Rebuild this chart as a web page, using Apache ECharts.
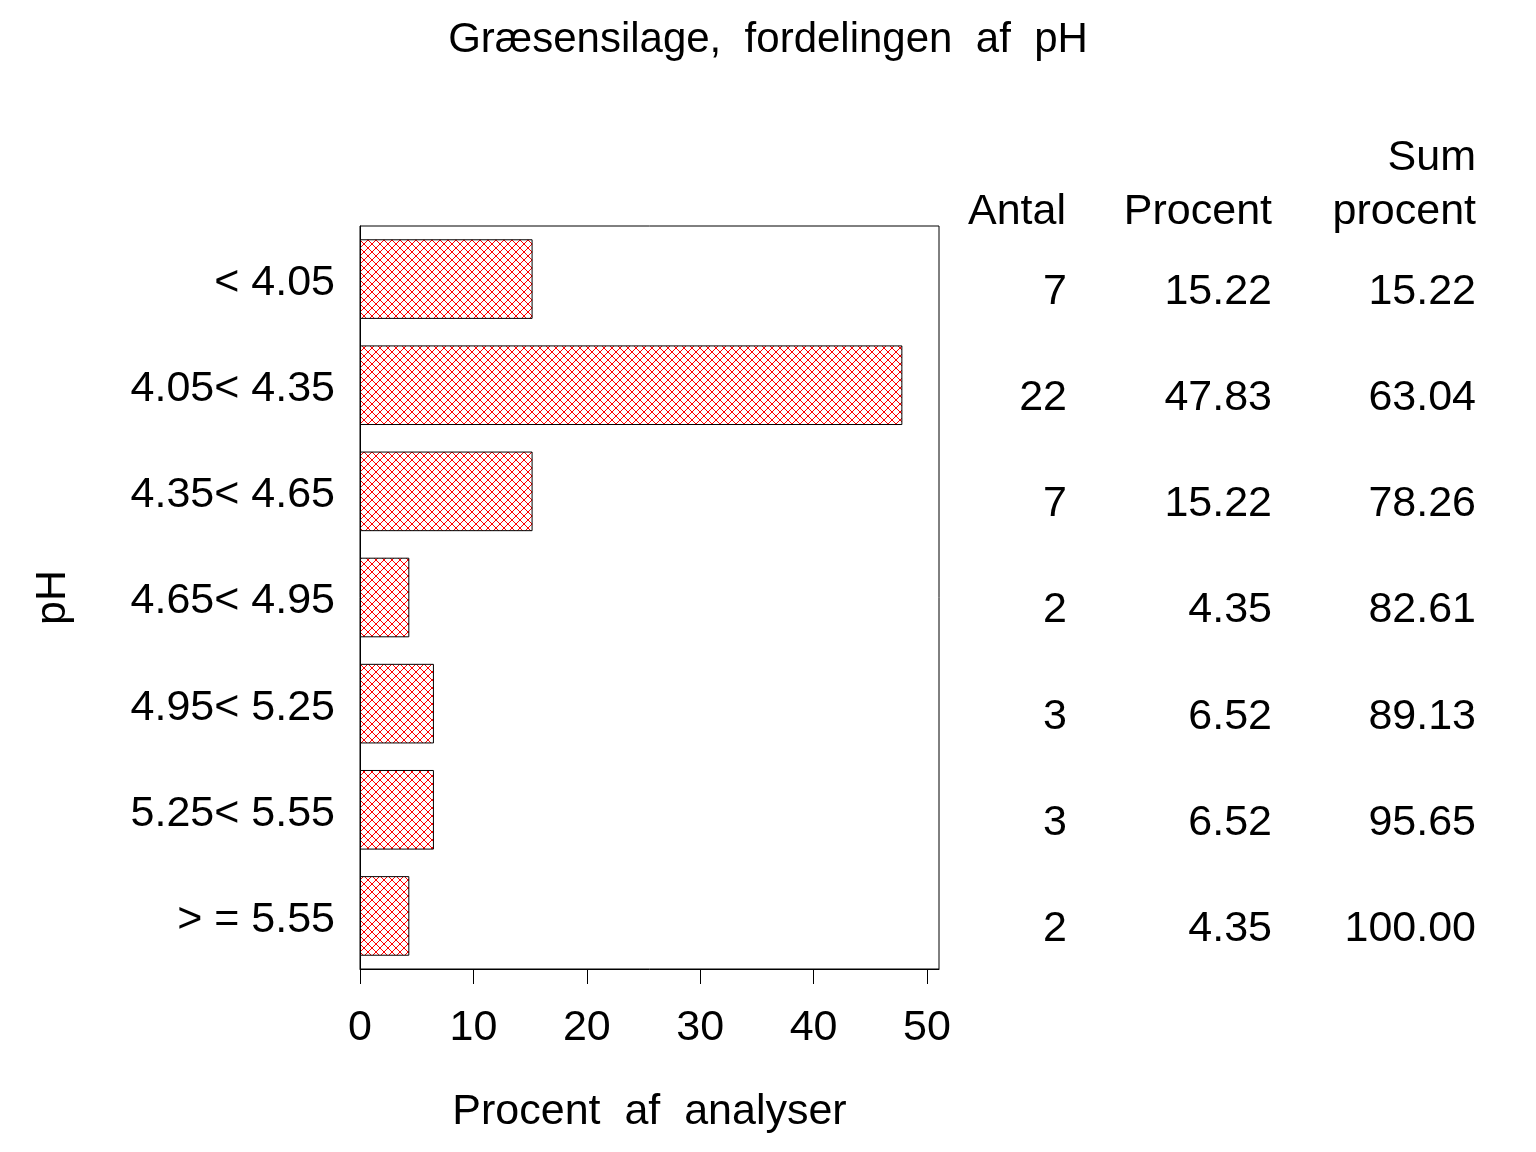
<!DOCTYPE html>
<html><head><meta charset="utf-8">
<script src="https://cdn.jsdelivr.net/npm/echarts@6/dist/echarts.min.js"></script>
<style>html,body{margin:0;padding:0;background:#fff}#c{width:1536px;height:1152px}</style>
</head><body><div id="c"></div>
<script>
var categories = ['< 4.05', '4.05< 4.35', '4.35< 4.65', '4.65< 4.95', '4.95< 5.25', '5.25< 5.55', '> = 5.55'];
var antal = [7, 22, 7, 2, 3, 3, 2];
var procent = [15.22, 47.83, 15.22, 4.35, 6.52, 6.52, 4.35];
var sumProcent = [15.22, 63.04, 78.26, 82.61, 89.13, 95.65, 100.00];
var xTicks = [0, 10, 20, 30, 40, 50];
var headers = ['Antal', 'Procent', 'Sum', 'procent'];

var FONT = '"Liberation Sans", Arial, sans-serif';
var FS = 43;

function hatch() {
  var c = document.createElement('canvas');
  c.width = 8; c.height = 8;
  var g = c.getContext('2d');
  g.fillStyle = '#ffffff'; g.fillRect(0, 0, 8, 8);
  g.fillStyle = '#ff0000';
  for (var i = 0; i < 8; i++) { g.fillRect(i, i, 1, 1); g.fillRect(7 - i, i, 1, 1); }
  return c;
}

var chart = echarts.init(document.getElementById('c'), null, {renderer: 'canvas'});
var txt = {color: '#000', fontFamily: FONT, fontSize: FS};

function tableAxis(vals, offset, fmt) {
  return {
    type: 'category', inverse: true, position: 'right', offset: offset,
    data: vals.map(fmt),
    axisLine: {show: false}, axisTick: {show: false}, splitLine: {show: false},
    axisLabel: Object.assign({align: 'right', margin: 0, verticalAlign: 'top', lineHeight: 26}, txt)
  };
}

function header(text, rightX, top) {
  return {type: 'text', right: 1536 - rightX, top: top,
    style: {text: text, fill: '#000', font: FS + 'px ' + FONT, textAlign: 'right'}};
}

chart.setOption({
  animation: false,
  backgroundColor: '#fff',
  title: {
    text: 'Græsensilage,  fordelingen  af  pH',
    left: 'center', top: 14,
    textStyle: {color: '#000', fontFamily: FONT, fontSize: 42, fontWeight: 'normal'}
  },
  grid: {left: 360, right: 597, top: 226, bottom: 183, show: true, borderColor: '#000', borderWidth: 1, backgroundColor: 'transparent'},
  xAxis: {
    type: 'value', min: 0, max: 51.06,
    name: 'Procent  af  analyser', nameLocation: 'middle', nameGap: 122,
    nameTextStyle: txt,
    axisLine: {show: true, lineStyle: {color: '#000', width: 1}},
    axisTick: {show: true, length: 15, lineStyle: {color: '#000'}, customValues: xTicks},
    axisLabel: Object.assign({margin: 38, customValues: xTicks}, txt),
    splitLine: {show: false}
  },
  yAxis: [
    {
      type: 'category', inverse: true, data: categories,
      name: 'pH', nameLocation: 'middle', nameRotate: 90, nameGap: 285,
      nameTextStyle: txt,
      axisLine: {show: true, lineStyle: {color: '#000'}},
      axisTick: {show: false},
      axisLabel: Object.assign({margin: 25, verticalAlign: 'top', lineHeight: 8}, txt)
    },
    tableAxis(antal, 128, function (v) { return String(v); }),
    tableAxis(procent, 333, function (v) { return v.toFixed(2); }),
    tableAxis(sumProcent, 537, function (v) { return v.toFixed(2); })
  ],
  graphic: [
    header(headers[0], 1066, 191),
    header(headers[1], 1272, 191),
    header(headers[2], 1476, 137),
    header(headers[3], 1476, 191)
  ],
  series: [{
    type: 'bar', yAxisIndex: 0, data: procent, barWidth: '75%',
    itemStyle: {color: {image: hatch(), repeat: 'repeat'}, borderColor: '#000', borderWidth: 1},
    silent: true
  }]
});
</script></body></html>
